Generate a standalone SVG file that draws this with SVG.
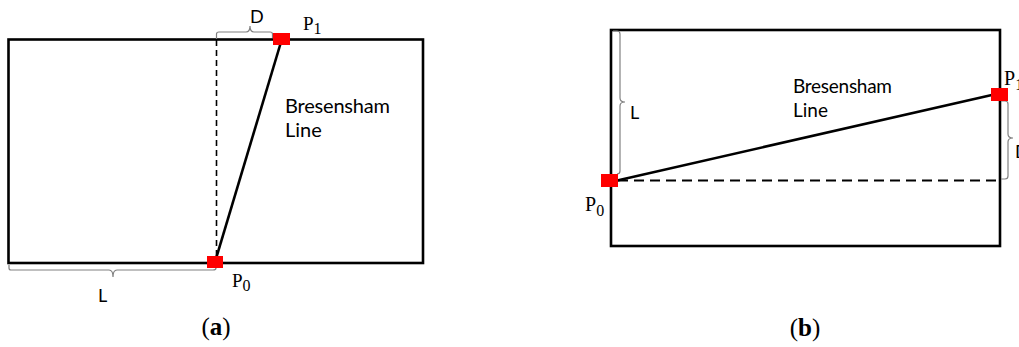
<svg xmlns="http://www.w3.org/2000/svg" width="1019" height="347" viewBox="0 0 1019 347">
<style>
.frame{fill:none;stroke:#000;stroke-width:2.6}
.bline{stroke:#000;stroke-width:2.6;fill:none}
.dash{stroke:#000;fill:none}
.brace{fill:none;stroke:#808080;stroke-width:1.2}
.mark{fill:#ff0000}
.lbl{font-family:Lato,"Open Sans","Liberation Sans",sans-serif;fill:#000}
.pt{font-family:"Liberation Serif","DejaVu Serif",serif;fill:#000}
.cap{font-family:"Liberation Serif","DejaVu Serif",serif;font-size:25px;fill:#000}
</style>
<rect width="1019" height="347" fill="#fff"/>
<g id="panel-a">
<rect id="frame-a" class="frame" x="8.5" y="39.5" width="414.5" height="223.5"/>
</g>
<g id="panel-b">
<rect id="frame-b" class="frame" x="611" y="30" width="389" height="216"/>
</g>
<g id="connectors">
<line class="dash" x1="216.5" y1="40" x2="216.5" y2="256" stroke-width="1.6" stroke-dasharray="6,4"/>
<line class="bline" x1="281" y1="42" x2="215" y2="262"/>
<line class="dash" x1="618" y1="180.5" x2="1000" y2="180.5" stroke-width="2.2" stroke-dasharray="10,6"/>
<line class="bline" x1="615" y1="181" x2="994" y2="94.5"/>
</g>
<g id="brace-d-a">
<path class="brace" d="M216.5,39 L216.5,34 Q216.5,32 219,32 L246,32 Q250,32 250,26 Q250,32 254,32 L270,32 Q272.5,32 272.5,34 L272.5,38"/>
<text class="lbl" x="250" y="23" font-size="18">D</text>
</g>
<g id="brace-l-a">
<path class="brace" d="M9,265 L9,268 Q9,270 11,270 L109,270 Q113,270 113,277 Q113,270 117,270 L213,270 Q216,270 216,268 L216,265"/>
<text class="lbl" x="98" y="302" font-size="18">L</text>
</g>
<g id="brace-l-b">
<path class="brace" d="M613,31 L617,31 Q620,31 620,34 L620,98 Q620,102 625,102 Q620,102 620,106 L620,171 Q620,174 617,174"/>
<text class="lbl" x="630" y="119" font-size="18">L</text>
</g>
<g id="brace-d-b">
<path class="brace" d="M1001,101 L1005,101 Q1008,101 1008,104 L1008,134 Q1008,138 1013,138 Q1008,138 1008,142 L1008,176 Q1008,179 1005,179 L1001,179"/>
<text class="lbl" x="1015" y="158" font-size="18">D</text>
</g>
<g id="p1-a">
<rect class="mark" x="273" y="33" width="17" height="12"/>
<text class="pt" x="303" y="30" font-size="19">P<tspan font-size="16" dy="4">1</tspan></text>
</g>
<g id="p0-a">
<rect class="mark" x="207" y="256" width="16" height="12"/>
<text class="pt" x="232" y="287" font-size="19">P<tspan font-size="16" dy="4">0</tspan></text>
</g>
<g id="p0-b">
<rect class="mark" x="601" y="174" width="17" height="13"/>
<text class="pt" x="585" y="211" font-size="20">P<tspan font-size="16" dy="5">0</tspan></text>
</g>
<g id="p1-b">
<rect class="mark" x="991" y="88" width="17" height="13"/>
<text class="pt" x="1004" y="85" font-size="20">P<tspan font-size="16" dy="5">1</tspan></text>
</g>
<g id="label-a">
<text class="lbl" x="285" y="113" font-size="20" textLength="105">Bresensham</text>
<text class="lbl" x="285" y="137" font-size="20">Line</text>
</g>
<g id="label-b">
<text class="lbl" x="793" y="93" font-size="19" textLength="99">Bresensham</text>
<text class="lbl" x="793" y="117" font-size="19">Line</text>
</g>
<text class="cap" x="216" y="335" text-anchor="middle">(<tspan font-weight="bold">a</tspan>)</text>
<text class="cap" x="805" y="336" text-anchor="middle">(<tspan font-weight="bold">b</tspan>)</text>
</svg>
